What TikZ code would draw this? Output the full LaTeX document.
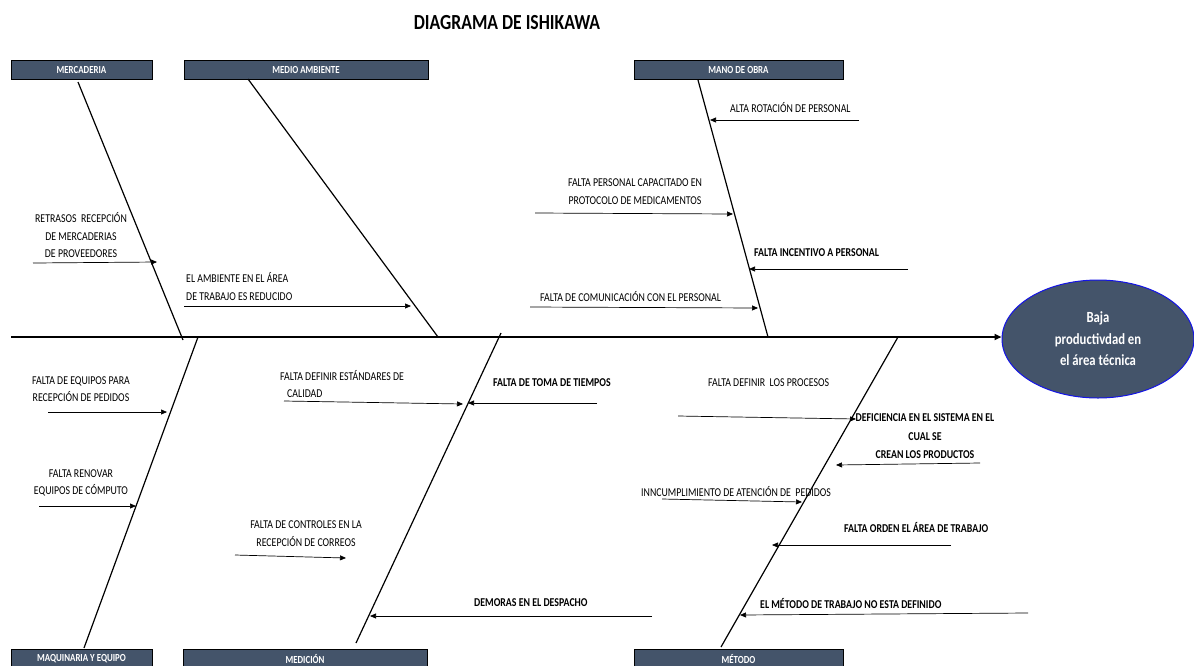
\documentclass[tikz,border=0pt]{standalone}
\usepackage{fontspec}
\setmainfont{Carlito}[FakeStretch=0.82]
\usetikzlibrary{arrows.meta,shapes.geometric}
\definecolor{slate}{RGB}{68,84,106}
\definecolor{rimblue}{RGB}{20,20,230}
\begin{document}
\begin{tikzpicture}[x=1pt,y=-1pt,
  ttl/.style={font=\fontsize{21.5}{24}\selectfont\bfseries,inner sep=0pt},
  catbox/.style={draw=black,line width=0.9pt,fill=slate,text=white,
    font=\fontsize{10.8}{12}\selectfont\bfseries,inner sep=0pt,
    minimum height=19pt},
  effect/.style={ellipse,draw=rimblue,line width=1pt,fill=slate,text=white,
    minimum width=192pt,minimum height=118pt,inner sep=0pt,align=center,
    font=\fontsize{15.5}{21.5}\selectfont\bfseries},
  spine/.style={line width=1.8pt,-{Triangle[length=7pt,width=6pt]}},
  bone/.style={line width=1.2pt},
  cause/.style={line width=0.7pt,-{Triangle[length=6pt,width=5pt]}},
  lbl/.style={inner sep=0pt,font=\fontsize{12}{17.5}\selectfont},
  lblb/.style={inner sep=0pt,font=\fontsize{12}{18.5}\selectfont\bfseries},
]
\clip (0,0) rectangle (1194,665);

% title
\node[ttl] (title) at (507,23) {DIAGRAMA DE ISHIKAWA};

% category boxes
\node[catbox,minimum width=141pt] (mer) at (81.5,69.5) {MERCADERIA};
\node[catbox,minimum width=244pt] (amb) at (306,69.5) {MEDIO AMBIENTE};
\node[catbox,minimum width=209pt] (obr) at (738.5,69.5) {MANO DE OBRA};
\node[catbox,minimum width=141pt] (maq) at (81.5,659) {MAQUINARIA Y EQUIPO};
\node[catbox,minimum width=244pt] (med) at (305,659) {MEDICIÓN};
\node[catbox,minimum width=209pt] (met) at (738.5,659) {MÉTODO};

% effect
\node[effect] (eff) at (1098,339) {Baja\\productivdad en\\el área técnica};

% spine
\coordinate (tail) at (11,337);
\draw[spine] (tail) -- (eff.west |- tail);

% bones
\coordinate (b1a) at (78,82);   \coordinate (b1b) at (183,340);
\coordinate (b2a) at (248,79);  \coordinate (b2b) at (438,337);
\coordinate (b3a) at (698,80);  \coordinate (b3b) at (768,337);
\coordinate (b4a) at (198,337); \coordinate (b4b) at (84,648);
\coordinate (b5a) at (501,333); \coordinate (b5b) at (356,643);
\coordinate (b6a) at (898,337); \coordinate (b6b) at (721,647);
\draw[bone] (b1a) -- (b1b);
\draw[bone] (b2a) -- (b2b);
\draw[bone] (b3a) -- (b3b);
\draw[bone] (b4a) -- (b4b);
\draw[bone] (b5a) -- (b5b);
\draw[bone] (b6a) -- (b6b);

% MERCADERIA
\node[lbl,align=center] (l1) at (81,235.5) {RETRASOS\ \ RECEPCIÓN\\DE MERCADERIAS\\DE PROVEEDORES};
\coordinate (s1) at (33,263); \coordinate (e1) at (157,262);
\draw[cause] (s1) -- (e1);

% MEDIO AMBIENTE
\node[lbl,align=left,anchor=west] (l2) at (186,286.5) {EL AMBIENTE EN EL ÁREA\\DE TRABAJO ES REDUCIDO};
\coordinate (s2) at (184,306); \coordinate (e2) at (411,306);
\draw[cause] (s2) -- (e2);

% MANO DE OBRA
\node[lbl,anchor=west] (l3) at (730,108) {ALTA ROTACIÓN DE PERSONAL};
\coordinate (s3) at (859,120); \coordinate (e3) at (710,120);
\draw[cause] (s3) -- (e3);

\node[lbl,align=center] (l4) at (635,191.5) {FALTA PERSONAL CAPACITADO EN\\PROTOCOLO DE MEDICAMENTOS};
\coordinate (s4) at (535,213); \coordinate (e4) at (733,214);
\draw[cause] (s4) -- (e4);

\node[lblb,anchor=west] (l5) at (754,253) {FALTA INCENTIVO A PERSONAL};
\coordinate (s5) at (908,269); \coordinate (e5) at (749,269);
\draw[cause] (s5) -- (e5);

\node[lbl,anchor=west] (l6) at (540,297) {FALTA DE COMUNICACIÓN CON EL PERSONAL};
\coordinate (s6) at (530,307); \coordinate (e6) at (758,308);
\draw[cause] (s6) -- (e6);

% MAQUINARIA Y EQUIPO
\node[lbl,align=center] (l7) at (81,389) {FALTA DE EQUIPOS PARA\\RECEPCIÓN DE PEDIDOS};
\coordinate (s7) at (48,412); \coordinate (e7) at (167,412);
\draw[cause] (s7) -- (e7);

\node[lbl,align=center] (l8) at (81,483) {FALTA RENOVAR\\EQUIPOS DE CÓMPUTO};
\coordinate (s8) at (39,506); \coordinate (e8) at (136,506);
\draw[cause] (s8) -- (e8);

% MEDICION
\node[lbl,align=left,anchor=west] (l9) at (280,384) {FALTA DEFINIR ESTÁNDARES DE\\\hspace*{7pt}CALIDAD};
\coordinate (s9) at (284,401); \coordinate (e9) at (463,404);
\draw[cause] (s9) -- (e9);

\node[lblb,anchor=west] (l10) at (493,383) {FALTA DE TOMA DE TIEMPOS};
\coordinate (s10) at (597,403); \coordinate (e10) at (468,403);
\draw[cause] (s10) -- (e10);

\node[lbl,align=center] (l11) at (306,533.5) {FALTA DE CONTROLES EN LA\\RECEPCIÓN DE CORREOS};
\coordinate (s11) at (235,555); \coordinate (e11) at (346,558);
\draw[cause] (s11) -- (e11);

\node[lblb,anchor=west] (l12) at (474,603) {DEMORAS EN EL DESPACHO};
\coordinate (s12) at (652,616); \coordinate (e12) at (370,616);
\draw[cause] (s12) -- (e12);

% METODO
\node[lbl,anchor=west] (l13) at (708,383) {FALTA DEFINIR\ \ LOS PROCESOS};
\coordinate (s13) at (678,416); \coordinate (e13) at (856,419);
\draw[cause] (s13) -- (e13);

\node[lblb,align=center] (l14) at (925,436.5) {DEFICIENCIA EN EL SISTEMA EN EL\\CUAL SE\\CREAN LOS PRODUCTOS};
\coordinate (s14) at (980,463); \coordinate (e14) at (836,465);
\draw[cause] (s14) -- (e14);

\node[lbl,anchor=west] (l15) at (641,492) {INNCUMPLIMIENTO DE ATENCIÓN DE\ \ PEDIDOS};
\coordinate (s15) at (662,499); \coordinate (e15) at (802,502);
\draw[cause] (s15) -- (e15);

\node[lblb,anchor=west] (l16) at (844,527) {FALTA ORDEN EL ÁREA DE TRABAJO};
\coordinate (s16) at (951,545); \coordinate (e16) at (772,545);
\draw[cause] (s16) -- (e16);

\node[lblb,anchor=west] (l17) at (760,603) {EL MÉTODO DE TRABAJO NO ESTA DEFINIDO};
\coordinate (s17) at (1028,613); \coordinate (e17) at (740,615);
\draw[cause] (s17) -- (e17);
\end{tikzpicture}
\end{document}
